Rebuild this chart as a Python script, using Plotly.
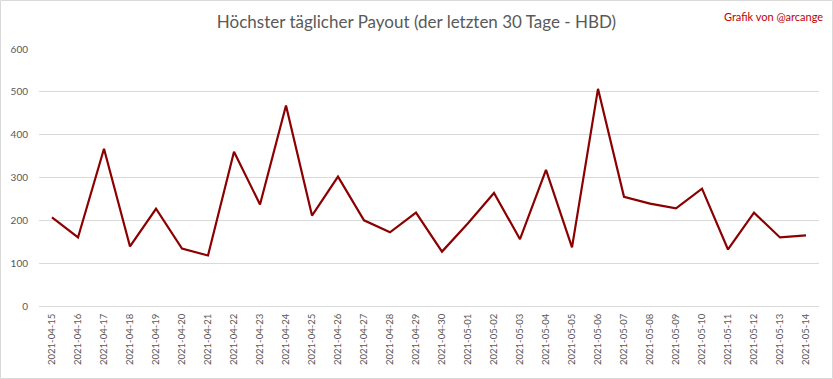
import plotly.graph_objects as go

dates = ["2021-04-15","2021-04-16","2021-04-17","2021-04-18","2021-04-19","2021-04-20",
         "2021-04-21","2021-04-22","2021-04-23","2021-04-24","2021-04-25","2021-04-26",
         "2021-04-27","2021-04-28","2021-04-29","2021-04-30","2021-05-01","2021-05-02",
         "2021-05-03","2021-05-04","2021-05-05","2021-05-06","2021-05-07","2021-05-08",
         "2021-05-09","2021-05-10","2021-05-11","2021-05-12","2021-05-13","2021-05-14"]
payout = [207, 160, 367, 139, 227, 134, 118, 360, 237, 468, 211, 302, 200, 172, 218,
          127, 193, 264, 156, 318, 137, 507, 255, 239, 228, 274, 132, 218, 160, 165]
y_ticks = [0, 100, 200, 300, 400, 500, 600]

W, H = 833, 379
L, R, T, B = 39, 14, 49, 73
FONT = "Lato, Open Sans, sans-serif"

fig = go.Figure()
fig.add_trace(go.Scatter(
    x=dates, y=payout, mode="lines",
    line=dict(color="#8B0000", width=2.2),
    hoverinfo="x+y",
))

fig.update_layout(
    width=W, height=H,
    margin=dict(l=L, r=R, t=T, b=B, pad=0),
    paper_bgcolor="white", plot_bgcolor="white",
    font=dict(family=FONT, color="#595959", size=10),
    title=dict(text="Höchster täglicher Payout (der letzten 30 Tage - HBD)",
               x=0.5, xanchor="center", y=1 - 22 / H, yanchor="middle",
               font=dict(size=17, color="#595959", family=FONT)),
    showlegend=False,
    xaxis=dict(
        type="category", tickangle=-90, showgrid=False, zeroline=False,
        showline=True, linecolor="#d9d9d9", linewidth=1,
        ticks="", tickfont=dict(size=9.5, color="#595959"),
        range=[-0.5, len(dates) - 0.5], ticklabelstandoff=3,
    ),
    yaxis=dict(
        range=[0, 600], tickvals=y_ticks, showgrid=True, gridcolor="#d9d9d9",
        gridwidth=1, zeroline=False, showline=False, ticks="",
        tickfont=dict(size=10, color="#595959"), ticklabelstandoff=10,
    ),
    annotations=[dict(
        text="Grafik von @arcange", xref="paper", yref="paper",
        x=1 + (R - 8) / (W - L - R), xanchor="right",
        y=1 + (T - 16) / (H - T - B), yanchor="middle",
        showarrow=False, font=dict(size=11, color="#C00000", family=FONT),
    )],
    shapes=[dict(
        type="rect", xref="paper", yref="paper",
        x0=-(L - 0.5) / (W - L - R), x1=1 + (R - 0.5) / (W - L - R),
        y0=-(B - 0.5) / (H - T - B), y1=1 + (T - 0.5) / (H - T - B),
        line=dict(color="#d9d9d9", width=1), fillcolor="rgba(0,0,0,0)", layer="below",
    )],
)

fig.write_html(
    "out.html",
    config={"displayModeBar": False},
    post_script="document.body.style.margin='0';document.body.style.overflow='hidden';",
)
